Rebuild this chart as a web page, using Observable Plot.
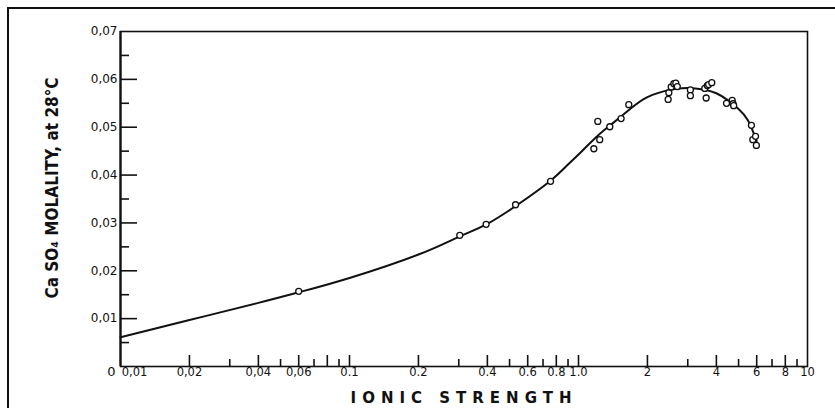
<!DOCTYPE html>
<html>
<head>
<meta charset="utf-8">
<script src="https://cdn.jsdelivr.net/npm/d3@7"></script>
<script src="https://cdn.jsdelivr.net/npm/@observablehq/plot@0.6"></script>
<style>
  html, body { margin: 0; padding: 0; background: #fff; }
  #wrap { position: relative; width: 835px; height: 408px; overflow: hidden; }
  #border { position: absolute; left: 7px; top: 7px; right: -5px; bottom: -5px;
            border-left: 2px solid #111; border-top: 2px solid #111; pointer-events: none; }
</style>
</head>
<body>
<div id="wrap"><div id="border"></div></div>
<script>
// Measured points: ionic strength (x) vs CaSO4 molality (y)
const pointX = [0.06, 0.303, 0.395, 0.531, 0.755, 1.167, 1.214, 1.238, 1.37, 1.535, 1.658,
  2.463, 2.48, 2.54, 2.61, 2.66, 2.70, 3.08, 3.08, 3.56, 3.61, 3.65, 3.70, 3.82,
  4.43, 4.69, 4.73, 4.76, 5.69, 5.77, 5.93, 5.98];
const pointY = [0.0157, 0.0274, 0.0297, 0.0338, 0.0387, 0.0455, 0.0512, 0.0474, 0.0501, 0.0518, 0.0547,
  0.0558, 0.0572, 0.0584, 0.0591, 0.0592, 0.0585, 0.0578, 0.0566, 0.0581, 0.0561, 0.0587, 0.0589, 0.0593,
  0.0550, 0.0556, 0.0549, 0.0545, 0.0504, 0.0474, 0.0481, 0.0462];

// Fitted curve
const curveX = [0.01, 0.02, 0.04, 0.06, 0.1, 0.2, 0.3, 0.4, 0.55, 0.75, 0.9, 1.0, 1.2, 1.4, 1.7, 2, 2.5, 3, 3.5, 4, 4.5, 5, 5.5, 6];
const curveY = [0.0061, 0.0097, 0.0133, 0.0155, 0.0185, 0.0234, 0.0271, 0.0298, 0.0340, 0.0387, 0.0422, 0.0443, 0.0480, 0.0507, 0.0540, 0.0563, 0.0578, 0.0582, 0.0579, 0.0571, 0.0556, 0.0538, 0.0514, 0.0471];

// Axis ticks and labels
const xMajorTicks = [0.02, 0.04, 0.06, 0.08, 0.1, 0.2, 0.4, 0.6, 0.8, 1, 2, 4, 6, 8];
const xMinorTicks = [0.03, 0.05, 0.07, 0.09, 0.3, 0.5, 0.7, 0.9, 3, 5, 7, 9];
const xLabelValues = [0.02, 0.04, 0.06, 0.1, 0.2, 0.4, 0.6, 0.8, 1, 2, 4, 6, 8, 10];
const xLabelTexts = ["0,02", "0,04", "0,06", "0.1", "0.2", "0.4", "0.6", "0.8", "1.0", "2", "4", "6", "8", "10"];
const xFirstValue = [0.01];
const xFirstLabel = ["0,01"];
const yMajorTicks = [0.01, 0.02, 0.03, 0.04, 0.05, 0.06];
const yMinorTicks = [0.005, 0.015, 0.025, 0.035, 0.045, 0.055, 0.065];
const yLabelValues = [0.01, 0.02, 0.03, 0.04, 0.05, 0.06, 0.07];
const yLabelTexts = ["0,01", "0,02", "0,03", "0,04", "0,05", "0,06", "0,07"];
const yZeroValue = [0];
const yZeroLabel = ["0"];

const xTitle = "IONIC STRENGTH";
const yTitle = "Ca SO\u2084 MOLALITY, at 28\u00B0C";

const points = pointX.map((x, i) => ({x, y: pointY[i]}));
const curve = curveX.map((x, i) => ({x, y: curveY[i]}));

const W = 835, H = 408, mL = 120, mR = 28, mT = 31, mB = 42;
const plotW = W - mL - mR, plotH = H - mT - mB;
const font = "DejaVu Sans, sans-serif";

const chart = Plot.plot({
  width: W, height: H,
  marginLeft: mL, marginRight: mR, marginTop: mT, marginBottom: mB,
  style: {background: "transparent", fontFamily: font, color: "#111"},
  x: {type: "log", domain: [0.01, 10], axis: null},
  y: {domain: [0, 0.07], axis: null},
  marks: [
    Plot.frame({stroke: "#111", strokeWidth: 1.6}),
    Plot.ruleX([0.01], {stroke: "#111", strokeWidth: 2.2}),
    Plot.tickX(xMajorTicks, {x: d => d, stroke: "#111", strokeWidth: 1.6, insetTop: plotH - 11}),
    Plot.tickX(xMinorTicks, {x: d => d, stroke: "#111", strokeWidth: 1.6, insetTop: plotH - 7}),
    Plot.tickY(yMajorTicks, {y: d => d, stroke: "#111", strokeWidth: 1.6, insetRight: plotW - 17}),
    Plot.tickY(yMinorTicks, {y: d => d, stroke: "#111", strokeWidth: 1.6, insetRight: plotW - 9}),
    Plot.text(xLabelValues, {x: d => d, text: (d, i) => xLabelTexts[i], frameAnchor: "bottom", dy: 9, fontSize: 11.5, fill: "#111"}),
    Plot.text(xFirstValue, {x: d => d, text: (d, i) => xFirstLabel[i], frameAnchor: "bottom", dy: 9, dx: 14, fontSize: 11.5, fill: "#111"}),
    Plot.text(yLabelValues, {y: d => d, text: (d, i) => yLabelTexts[i], frameAnchor: "left", textAnchor: "end", dx: -3, fontSize: 12, fill: "#111"}),
    Plot.text(yZeroValue, {y: d => d, text: (d, i) => yZeroLabel[i], frameAnchor: "left", textAnchor: "end", dx: -5, dy: 5, fontSize: 13, fill: "#111"}),
    Plot.line(curve, {x: "x", y: "y", curve: "natural", stroke: "#111", strokeWidth: 2}),
    Plot.dot(points, {x: "x", y: "y", r: 3, stroke: "#111", strokeWidth: 1.3, fill: "#fff"}),
    Plot.text([xTitle], {frameAnchor: "bottom", dy: 36, fontSize: 15, fontWeight: "bold", fill: "#111", className: "xtitle"}),
    Plot.text([yTitle], {frameAnchor: "left", textAnchor: "middle", rotate: -90, dx: -68, dy: -11, fontSize: 17, fontWeight: "bold", fill: "#111",
      fontFamily: "DejaVu Sans Condensed, DejaVu Sans, sans-serif", className: "ytitle"})
  ]
});
document.getElementById("wrap").prepend(chart);
d3.select(chart).selectAll(".xtitle text").style("letter-spacing", "6px");
</script>
</body>
</html>
